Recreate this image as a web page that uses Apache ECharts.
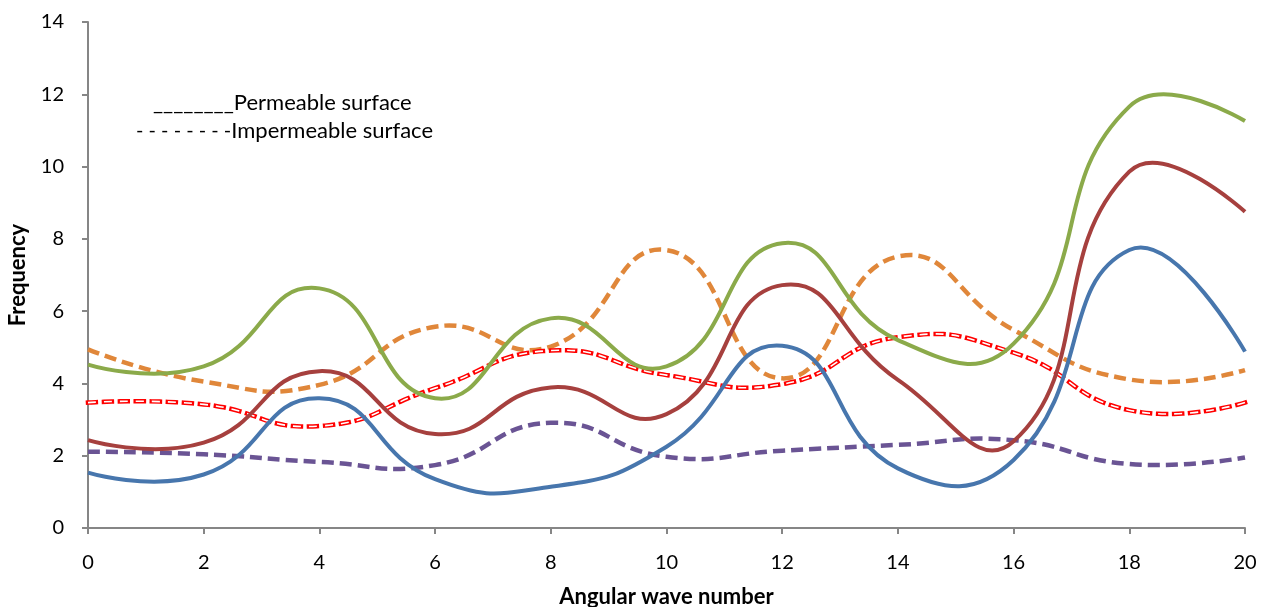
<!DOCTYPE html>
<html>
<head>
<meta charset="utf-8">
<script src="https://cdn.jsdelivr.net/npm/echarts@6/dist/echarts.min.js"></script>
<style>
html,body{margin:0;padding:0;background:#fff;}
#chart{width:1267px;height:607px;}
</style>
</head>
<body>
<div id="chart"></div>
<script>
// Angular wave numbers (x values)
const waveNumbers = [0, 2, 4, 6, 8, 10, 12, 14, 16, 18, 20];
// Permeable surface (solid lines)
const bluePerm   = [1.53, 1.48, 3.59, 1.35, 1.14, 2.25, 5.04, 1.65, 1.88, 7.69, 4.88];
const brownPerm  = [2.43, 2.36, 4.34, 2.60, 3.89, 3.15, 6.72, 4.10, 2.40, 9.86, 8.75];
const greenPerm  = [4.52, 4.47, 6.63, 3.59, 5.80, 4.47, 7.88, 5.20, 5.10, 11.66, 11.26];
// Impermeable surface (dashed lines)
const orangeImp  = [4.94, 4.05, 3.96, 5.57, 5.02, 7.69, 4.14, 7.51, 5.48, 4.11, 4.37];
const redImp     = [3.47, 3.42, 2.82, 3.87, 4.91, 4.23, 3.98, 5.28, 4.85, 3.26, 3.47];
const purpleImp  = [2.11, 2.04, 1.83, 1.74, 2.91, 1.97, 2.14, 2.30, 2.43, 1.77, 1.95];
// Axis ticks
const xTicks = {min: 0, max: 20, interval: 2};
const yTicks = {min: 0, max: 14, interval: 2};

const pairs = arr => waveNumbers.map((x, i) => [x, arr[i]]);
const FONT = 'Lato, "Open Sans", sans-serif';
const SM = 0.5;

// Smoothed line drawn through the data points via the axes' own scales (api.coord)
function curve(values, style) {
  return {
    type: 'custom', data: pairs(values), silent: true,
    encode: {x: 0, y: 1},
    renderItem: function (params, api) {
      if (params.dataIndex !== 0) return null;
      const pts = pairs(values).map(p => api.coord(p));
      return {
        type: 'polyline', silent: true,
        shape: {points: pts, smooth: SM},
        style: Object.assign({fill: null}, style)
      };
    }
  };
}

const chart = echarts.init(document.getElementById('chart'), null, {renderer: 'canvas'});
chart.setOption({
  animation: false,
  backgroundColor: '#ffffff',
  grid: {left: 88, right: 22, top: 22, bottom: 79, containLabel: false, outerBoundsMode: 'none'},
  xAxis: {
    type: 'value', min: xTicks.min, max: xTicks.max, interval: xTicks.interval,
    name: 'Angular wave number', nameLocation: 'middle', nameGap: 58,
    nameTextStyle: {fontFamily: FONT, fontSize: 22, fontWeight: 'bold', color: '#000'},
    axisLine: {show: true, lineStyle: {color: '#868686', width: 2}},
    axisTick: {show: true, length: 6, lineStyle: {color: '#868686', width: 2}},
    axisLabel: {fontFamily: FONT, fontSize: 20, color: '#000', margin: 25},
    splitLine: {show: false}
  },
  yAxis: {
    type: 'value', min: yTicks.min, max: yTicks.max, interval: yTicks.interval,
    name: 'Frequency', nameLocation: 'middle', nameGap: 59, nameRotate: 90,
    nameTextStyle: {fontFamily: FONT, fontSize: 22, fontWeight: 'bold', color: '#000'},
    axisLine: {show: true, lineStyle: {color: '#868686', width: 2}},
    axisTick: {show: true, length: 6, lineStyle: {color: '#868686', width: 2}},
    axisLabel: {fontFamily: FONT, fontSize: 20, color: '#000', margin: 24},
    splitLine: {show: false}
  },
  graphic: [
    {type: 'text', left: 153, top: 92, style: {text: '________Permeable surface', font: '22px ' + FONT, fill: '#000'}},
    {type: 'text', left: 136, top: 120, style: {
      text: '{d|- - - - - - - -}{t|Impermeable surface}',
      rich: {
        d: {fontFamily: FONT, fontSize: 20, fill: '#000', color: '#000'},
        t: {fontFamily: FONT, fontSize: 22, fill: '#000', color: '#000'}
      },
      font: '22px ' + FONT, fill: '#000'
    }}
  ],
  series: [
    curve(purpleImp, {stroke: '#6A5494', lineWidth: 4.5, lineDash: [12, 6], lineCap: 'butt'}),
    curve(orangeImp, {stroke: '#E0873A', lineWidth: 4.5, lineDash: [12, 6], lineCap: 'butt'}),
    curve(redImp, {stroke: '#FF0000', lineWidth: 4.5, lineDash: [8, 8], lineCap: 'square'}),
    curve(redImp, {stroke: '#FFFFFF', lineWidth: 1.6, lineDash: [8, 8], lineCap: 'butt'}),
    curve(bluePerm, {stroke: '#4776AD', lineWidth: 4, lineJoin: 'round'}),
    curve(brownPerm, {stroke: '#A6403E', lineWidth: 4, lineJoin: 'round'}),
    curve(greenPerm, {stroke: '#8BAA4A', lineWidth: 4, lineJoin: 'round'})
  ]
});
</script>
</body>
</html>
